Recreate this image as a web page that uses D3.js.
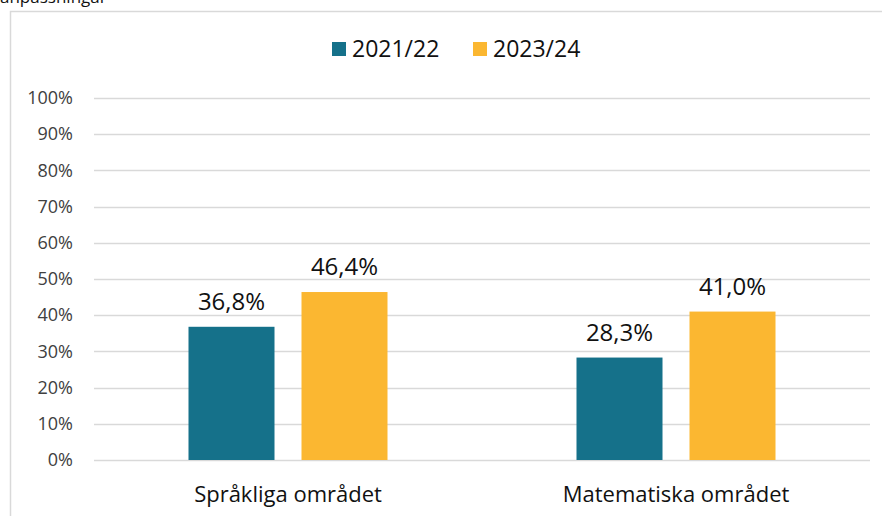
<!DOCTYPE html>
<html>
<head>
<meta charset="utf-8">
<script src="https://cdn.jsdelivr.net/npm/d3@7"></script>
<style>
  body { margin: 0; background: #fff; }
  svg { display: block; font-family: "Open Sans", sans-serif; }
</style>
</head>
<body>
<svg id="chart" width="882" height="516"></svg>
<script>
// data
var categories = ["Språkliga området", "Matematiska området"];
var seriesNames = ["2021/22", "2023/24"];
var values2122 = [36.8, 28.3];
var values2324 = [46.4, 41.0];
var yTicks = [0, 10, 20, 30, 40, 50, 60, 70, 80, 90, 100];
var colors = ["#15718a", "#fbb731"];

var width = 882, height = 516;
var svg = d3.select("#chart");

// clipped heading from the page above
svg.append("text")
  .attr("x", 0).attr("y", 3)
  .style("font-size", "17px")
  .style("fill", "#111")
  .text("anpassningar");

// chart frame
svg.append("rect")
  .attr("x", 10.5).attr("y", 11.5)
  .attr("width", 900).attr("height", 600)
  .attr("fill", "none")
  .attr("stroke", "#d9d9d9")
  .attr("stroke-width", 1.5);

var plot = { left: 94, right: 870, top: 98, bottom: 460 };

var x0 = d3.scaleBand()
  .domain(categories)
  .range([plot.left, plot.right]);

// two bars of 86px with a 27px gap
var groupW = 199;
var x1 = d3.scaleBand()
  .domain(seriesNames)
  .range([0, groupW])
  .paddingInner(27 / 113);

var y = d3.scaleLinear()
  .domain([0, 100])
  .range([plot.bottom, plot.top]);

// gridlines
svg.append("g")
  .selectAll("line")
  .data(yTicks)
  .enter().append("line")
  .attr("x1", plot.left).attr("x2", plot.right)
  .attr("y1", function(d) { return Math.round(y(d)) + 0.5; })
  .attr("y2", function(d) { return Math.round(y(d)) + 0.5; })
  .attr("stroke", "#d9d9d9")
  .attr("stroke-width", 1.5);

// y axis labels
var yAxis = d3.axisLeft(y)
  .tickValues(yTicks)
  .tickSize(0)
  .tickPadding(0)
  .tickFormat(function(d) { return d + "%"; });

var gy = svg.append("g")
  .attr("transform", "translate(73,0)")
  .call(yAxis);
gy.select(".domain").remove();
gy.selectAll("text")
  .style("font-size", "18px")
  .style("fill", "#404040")
  .style("font-family", "'Open Sans', sans-serif");

// bars
var rows = categories.map(function(c, i) {
  return { cat: c, vals: [values2122[i], values2324[i]] };
});

var groups = svg.append("g")
  .selectAll("g")
  .data(rows)
  .enter().append("g")
  .attr("transform", function(d) {
    return "translate(" + (x0(d.cat) + x0.bandwidth() / 2 - groupW / 2) + ",0)";
  });

groups.selectAll("rect")
  .data(function(d) { return d.vals.map(function(v, j) { return { s: seriesNames[j], v: v, j: j }; }); })
  .enter().append("rect")
  .attr("x", function(d) { return x1(d.s); })
  .attr("width", x1.bandwidth())
  .attr("y", function(d) { return y(d.v); })
  .attr("height", function(d) { return y(0) - y(d.v); })
  .attr("fill", function(d) { return colors[d.j]; });

groups.selectAll("text.val")
  .data(function(d) { return d.vals.map(function(v, j) { return { s: seriesNames[j], v: v }; }); })
  .enter().append("text")
  .attr("class", "val")
  .attr("x", function(d) { return x1(d.s) + x1.bandwidth() / 2; })
  .attr("y", function(d) { return y(d.v) - 17; })
  .attr("text-anchor", "middle")
  .style("font-size", "24px")
  .style("fill", "#111")
  .text(function(d) { return d.v.toFixed(1).replace(".", ",") + "%"; });

// category labels
var xAxis = d3.axisBottom(x0).tickSize(0).tickPadding(0);
var gx = svg.append("g")
  .attr("transform", "translate(0,502)")
  .call(xAxis);
gx.select(".domain").remove();
gx.selectAll("text")
  .attr("dy", 0)
  .style("font-size", "22px")
  .style("fill", "#111")
  .style("font-family", "'Open Sans', sans-serif");

// legend
var legendX = [332, 473];
var legend = svg.append("g")
  .selectAll("g")
  .data(seriesNames)
  .enter().append("g")
  .attr("transform", function(d, i) { return "translate(" + legendX[i] + ",42)"; });
legend.append("rect")
  .attr("width", 14).attr("height", 14)
  .attr("fill", function(d, i) { return colors[i]; });
legend.append("text")
  .attr("x", 20).attr("y", 15)
  .style("font-size", "23px")
  .style("fill", "#111")
  .text(function(d) { return d; });
</script>
</body>
</html>
